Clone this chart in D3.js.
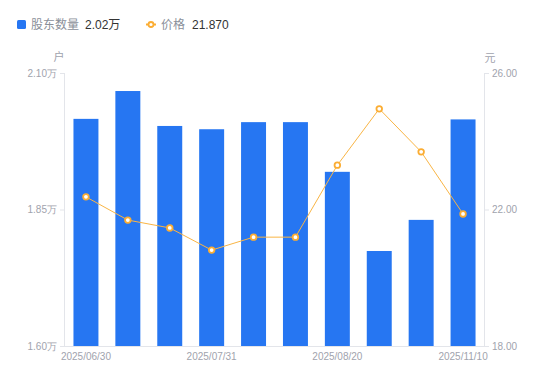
<!DOCTYPE html>
<html>
<head>
<meta charset="utf-8">
<script src="https://cdn.jsdelivr.net/npm/d3@7"></script>
<style>
  body { margin: 0; background: #fff; }
  svg { font-family: "Liberation Sans", "Noto Sans CJK SC", sans-serif; }
</style>
</head>
<body>
<svg id="canvas"></svg>
<script>
let dates = ["2025/06/30","2025/07/10","2025/07/20","2025/07/31","2025/08/05","2025/08/10","2025/08/20","2025/09/30","2025/10/20","2025/11/10"];
let holders = [2.016, 2.067, 2.003, 1.997, 2.010, 2.010, 1.919, 1.774, 1.831, 2.015];
let prices = [22.37, 21.69, 21.46, 20.81, 21.19, 21.19, 23.30, 24.95, 23.69, 21.87];
let shownDates = ["2025/06/30","2025/07/31","2025/08/20","2025/11/10"];
let leftTicks = [1.60, 1.85, 2.10];
let rightTicks = [18, 22, 26];

let width = 550;
let height = 381;
let plotLeft = 65, plotRight = 484, plotTop = 73, plotBottom = 346;

let canvas = d3.select("#canvas").attr("width", width).attr("height", height);

let xScale = d3.scaleBand().domain(dates).range([plotLeft, plotRight]).paddingInner(0.404).paddingOuter(0.202);
let yLeft = d3.scaleLinear().domain([1.60, 2.10]).range([plotBottom, plotTop]);
let yRight = d3.scaleLinear().domain([18, 26]).range([plotBottom, plotTop]);

let axisColor = "#e3e5ea";
let labelColor = "#9fa3ad";
let orange = "#fbad33";

// left axis
let gl = canvas.append("g").attr("transform", "translate(" + plotLeft + ",0)")
  .call(d3.axisLeft(yLeft).tickValues(leftTicks).tickSize(5).tickPadding(3).tickFormat(d => d.toFixed(2) + "万"));
// right axis
let gr = canvas.append("g").attr("transform", "translate(" + plotRight + ",0)")
  .call(d3.axisRight(yRight).tickValues(rightTicks).tickSize(5).tickPadding(3).tickFormat(d => d.toFixed(2)));
// bottom axis
let gb = canvas.append("g").attr("transform", "translate(0," + plotBottom + ")")
  .call(d3.axisBottom(xScale).tickValues(shownDates).tickSize(0).tickPadding(7));

[gl, gr, gb].forEach(g => {
  g.selectAll(".domain").attr("stroke", axisColor);
  g.selectAll(".tick line").attr("stroke", axisColor);
  g.selectAll("text").attr("fill", labelColor).attr("font-size", 10);
});
gb.select(".domain").attr("d", "M" + (plotLeft - 5) + ",0.5H" + (plotRight + 5));
gl.select(".domain").attr("d", "M-0.5," + plotTop + "V" + plotBottom);
gr.select(".domain").attr("d", "M0.5," + plotTop + "V" + plotBottom);

canvas.append("text").attr("x", 59).attr("y", 61).attr("text-anchor", "middle")
  .attr("fill", labelColor).attr("font-size", 11).text("户");
canvas.append("text").attr("x", 490).attr("y", 62).attr("text-anchor", "middle")
  .attr("fill", labelColor).attr("font-size", 11).text("元");

// bars
canvas.selectAll("rect.bar")
  .data(holders)
  .enter()
  .append("rect")
  .attr("class", "bar")
  .attr("x", (d, i) => xScale(dates[i]))
  .attr("width", xScale.bandwidth())
  .attr("y", d => yLeft(d))
  .attr("height", d => plotBottom - yLeft(d))
  .attr("fill", "#2676f2");

// price line
let line = d3.line()
  .x((d, i) => xScale(dates[i]) + xScale.bandwidth() / 2)
  .y(d => yRight(d));
canvas.append("path").datum(prices)
  .attr("d", line).attr("fill", "none").attr("stroke", "#f9b545").attr("stroke-width", 1);
canvas.selectAll("circle.pt")
  .data(prices)
  .enter()
  .append("circle")
  .attr("class", "pt")
  .attr("cx", (d, i) => xScale(dates[i]) + xScale.bandwidth() / 2)
  .attr("cy", d => yRight(d))
  .attr("r", 2.8)
  .attr("fill", "#fff")
  .attr("stroke", orange)
  .attr("stroke-width", 1.8);

// legend
let lg = canvas.append("g");
lg.append("rect").attr("x", 17).attr("y", 20).attr("width", 9).attr("height", 9).attr("rx", 1.5).attr("fill", "#2676f2");
lg.append("text").attr("x", 31).attr("y", 29).attr("font-size", 12).attr("fill", "#8a8f99").text("股东数量");
lg.append("text").attr("x", 85).attr("y", 29).attr("font-size", 12).attr("fill", "#333").text(holders[holders.length - 1].toFixed(2) + "万");
lg.append("line").attr("x1", 146).attr("x2", 156).attr("y1", 24.5).attr("y2", 24.5).attr("stroke", orange).attr("stroke-width", 2);
lg.append("circle").attr("cx", 151).attr("cy", 24.5).attr("r", 2.5).attr("fill", "#fff").attr("stroke", orange).attr("stroke-width", 1.8);
lg.append("text").attr("x", 161).attr("y", 29).attr("font-size", 12).attr("fill", "#8a8f99").text("价格");
lg.append("text").attr("x", 192).attr("y", 29).attr("font-size", 12).attr("fill", "#333").text(prices[prices.length - 1].toFixed(3));
</script>
</body>
</html>
